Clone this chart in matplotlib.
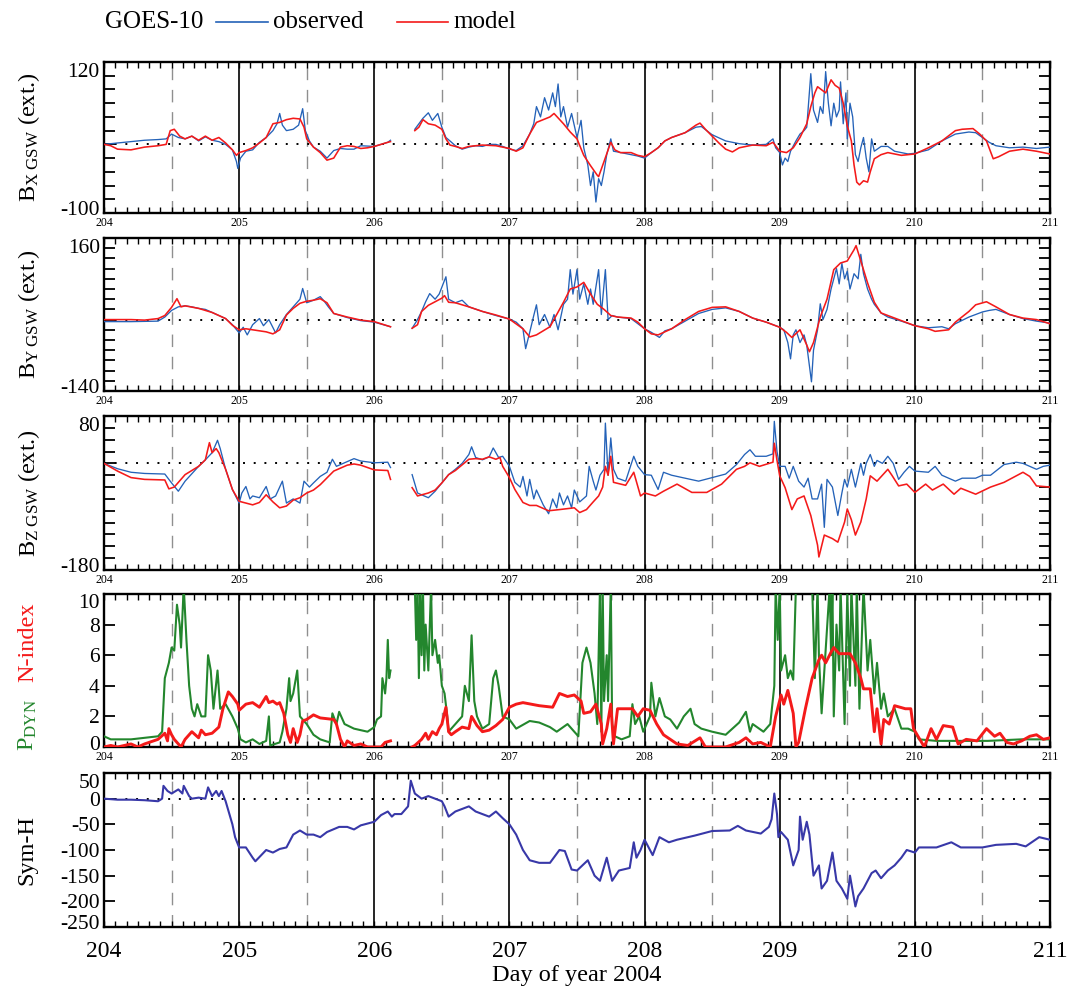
import numpy as np
import matplotlib
matplotlib.use('Agg')
import matplotlib.pyplot as plt
from matplotlib.lines import Line2D
from matplotlib.transforms import ScaledTranslation

plt.rcParams['font.family'] = 'Liberation Serif'
plt.rcParams['mathtext.fontset'] = 'custom'
plt.rcParams['mathtext.rm'] = 'Liberation Serif'
plt.rcParams['mathtext.it'] = 'Liberation Serif:italic'
plt.rcParams['mathtext.bf'] = 'Liberation Serif:bold'

NAN = float('nan')

# (day of year, value) samples; NaN marks the data gap on day 206
bx_obs = [(204.0, 0), (204.1, 2), (204.2, 4), (204.3, 6), (204.4, 7), (204.46, 8), (204.5, 15), (204.55, 10),
          (204.6, 8), (204.65, 12), (204.7, 5), (204.75, 11), (204.8, 6), (204.85, 4), (204.9, 0), (204.95, -8),
          (204.98, -25), (204.99, -35), (205.01, -20), (205.05, -10), (205.1, -8), (205.15, 3), (205.2, 10),
          (205.25, 20), (205.28, 30), (205.3, 45), (205.32, 28), (205.35, 20), (205.4, 22), (205.44, 28),
          (205.47, 52), (205.49, 20), (205.52, 5), (205.55, -4), (205.6, -10), (205.65, -20), (205.7, -9),
          (205.75, -6), (205.8, -7), (205.85, -7), (205.9, -2), (206.0, -3), (206.05, 0), (206.1, 3), (206.12, 6),
          (206.2, NAN), (206.3, 22), (206.33, 30), (206.36, 38), (206.4, 46), (206.43, 35), (206.45, 40),
          (206.47, 45), (206.5, 25), (206.53, 10), (206.56, 5), (206.6, -2), (206.65, -7), (206.7, -4),
          (206.75, -2), (206.8, -3), (206.85, 0), (206.9, 0), (206.95, -3), (207.0, -7), (207.05, -9), (207.1, -2),
          (207.15, 15), (207.18, 30), (207.2, 55), (207.23, 40), (207.26, 68), (207.29, 50), (207.32, 75),
          (207.34, 55), (207.36, 88), (207.38, 40), (207.4, 55), (207.43, 25), (207.46, 45), (207.5, 10),
          (207.53, 35), (207.55, -5), (207.58, -30), (207.6, -60), (207.62, -40), (207.64, -84), (207.66, -50),
          (207.68, -60), (207.7, -40), (207.72, -15), (207.75, 8), (207.77, -10), (207.8, -11), (207.85, -13),
          (207.9, -15), (207.95, -17), (208.0, -20), (208.05, -12), (208.1, -5), (208.15, 5), (208.2, 10),
          (208.3, 17), (208.38, 25), (208.42, 26), (208.5, 14), (208.6, 5), (208.7, 1), (208.8, -1), (208.9, 0),
          (208.95, 8), (208.97, -5), (209.0, -12), (209.02, -30), (209.04, -20), (209.06, -25), (209.08, -10),
          (209.12, 5), (209.15, 15), (209.18, 20), (209.2, 25), (209.23, 103), (209.25, 50), (209.28, 32),
          (209.3, 55), (209.32, 45), (209.34, 106), (209.36, 60), (209.38, 27), (209.4, 60), (209.42, 40),
          (209.44, 50), (209.45, 91), (209.47, 30), (209.49, 75), (209.5, 8), (209.52, 60), (209.54, 40),
          (209.56, -15), (209.58, -25), (209.6, -5), (209.62, 10), (209.64, -20), (209.66, -40), (209.68, 8),
          (209.7, -10), (209.75, -3), (209.8, -3), (209.85, -10), (209.9, -12), (209.95, -14), (210.0, -13),
          (210.1, -8), (210.2, 5), (210.3, 15), (210.4, 18), (210.45, 17), (210.5, 10), (210.55, 3), (210.6, -2),
          (210.7, -5), (210.8, -4), (210.9, -6), (211.0, -4)]

bx_mod = [(204.0, 0), (204.05, -2), (204.1, -7), (204.2, -8), (204.3, -4), (204.4, -2), (204.46, 0), (204.49, 20),
          (204.52, 22), (204.56, 12), (204.6, 8), (204.65, 12), (204.7, 6), (204.75, 12), (204.8, 6), (204.85, 10),
          (204.9, 2), (204.95, -8), (204.98, -16), (205.0, -12), (205.05, -9), (205.1, -5), (205.15, 2), (205.2, 10),
          (205.25, 30), (205.3, 32), (205.35, 36), (205.4, 38), (205.45, 37), (205.48, 25), (205.5, 8),
          (205.55, -4), (205.6, -12), (205.65, -23), (205.7, -20), (205.75, -4), (205.8, -2), (205.85, -3),
          (205.9, -6), (205.95, -5), (206.0, -3), (206.1, 3), (206.12, 4), (206.2, NAN), (206.3, 20), (206.33, 25),
          (206.36, 36), (206.4, 30), (206.45, 28), (206.5, 22), (206.53, 8), (206.56, -1), (206.6, -3),
          (206.65, -6), (206.7, -3), (206.8, -1), (206.9, -2), (207.0, -6), (207.05, -10), (207.1, -5),
          (207.15, 15), (207.2, 32), (207.25, 36), (207.3, 40), (207.33, 45), (207.4, 30), (207.45, 18),
          (207.5, 8), (207.55, -16), (207.6, -31), (207.65, -45), (207.66, -47), (207.7, -25), (207.75, 3),
          (207.78, -8), (207.82, -12), (207.9, -12), (207.95, -16), (208.0, -18), (208.05, -12), (208.1, -5),
          (208.15, 5), (208.2, 10), (208.3, 17), (208.38, 28), (208.41, 31), (208.45, 22), (208.5, 12),
          (208.55, 2), (208.6, -7), (208.65, -11), (208.7, -5), (208.8, -1), (208.9, -2), (208.95, 3),
          (209.0, -10), (209.05, -12), (209.1, -5), (209.15, 10), (209.2, 30), (209.23, 55), (209.26, 75),
          (209.28, 84), (209.32, 78), (209.34, 75), (209.38, 94), (209.41, 86), (209.44, 82), (209.47, 60),
          (209.5, 27), (209.53, 5), (209.55, -30), (209.57, -55), (209.59, -59), (209.62, -53), (209.65, -55),
          (209.67, -40), (209.7, -21), (209.75, -15), (209.8, -12), (209.85, -14), (209.9, -16), (210.0, -14),
          (210.1, -5), (210.2, 5), (210.3, 20), (210.35, 22), (210.43, 23), (210.48, 15), (210.53, 5),
          (210.58, -21), (210.62, -18), (210.7, -10), (210.8, -7), (210.9, -10), (211.0, -14)]

by_obs = [(204.0, -4), (204.2, -4), (204.4, -3), (204.45, 5), (204.5, 18), (204.55, 25), (204.6, 27), (204.65, 25),
          (204.7, 22), (204.75, 20), (204.8, 14), (204.9, 2), (204.95, -10), (205.0, -26), (205.03, -15),
          (205.06, -30), (205.1, -10), (205.15, 2), (205.18, -12), (205.22, 0), (205.27, -26), (205.3, -10),
          (205.35, 10), (205.4, 25), (205.45, 40), (205.47, 61), (205.5, 33), (205.55, 38), (205.6, 45),
          (205.63, 36), (205.66, 25), (205.7, 12), (205.8, 4), (205.9, -2), (206.0, -5), (206.12, -14),
          (206.2, NAN), (206.28, -17), (206.32, 0), (206.35, 16), (206.38, 35), (206.41, 51), (206.45, 40),
          (206.48, 50), (206.53, 84), (206.55, 40), (206.6, 33), (206.65, 38), (206.7, 25), (206.8, 16),
          (206.9, 8), (207.0, 1), (207.05, -5), (207.1, -18), (207.12, -57), (207.15, -25), (207.18, 8),
          (207.2, 29), (207.22, -10), (207.26, 10), (207.3, -15), (207.33, 10), (207.36, -20), (207.4, 30),
          (207.43, 40), (207.45, 98), (207.47, 50), (207.5, 98), (207.52, 40), (207.55, 70), (207.58, 30),
          (207.6, 60), (207.62, 30), (207.66, 98), (207.68, 10), (207.71, 98), (207.73, 0), (207.76, 8),
          (207.8, 5), (207.9, 2), (207.95, -8), (208.0, -18), (208.05, -25), (208.11, -35), (208.15, -22),
          (208.2, -18), (208.3, -3), (208.4, 12), (208.5, 20), (208.6, 23), (208.7, 16), (208.8, 3), (208.9, -5),
          (209.0, -15), (209.03, -20), (209.06, -45), (209.08, -77), (209.1, -30), (209.12, -20), (209.15, -45),
          (209.18, -30), (209.2, -50), (209.235, -122), (209.25, -60), (209.28, -20), (209.3, 31), (209.32, 0),
          (209.35, 20), (209.38, 60), (209.4, 80), (209.42, 100), (209.44, 70), (209.46, 110), (209.48, 80),
          (209.5, 95), (209.52, 60), (209.55, 90), (209.58, 80), (209.6, 128), (209.62, 90), (209.65, 60),
          (209.68, 40), (209.7, 30), (209.75, 13), (209.8, 5), (209.9, -3), (210.0, -12), (210.1, -16),
          (210.2, -14), (210.25, -18), (210.3, -8), (210.4, 5), (210.5, 15), (210.55, 18), (210.6, 20),
          (210.7, 10), (210.8, 2), (210.9, -3), (211.0, -7)]

by_mod = [(204.0, 0), (204.2, 0), (204.3, -1), (204.4, 2), (204.45, 8), (204.5, 24), (204.54, 41), (204.57, 25),
          (204.6, 27), (204.7, 22), (204.8, 14), (204.9, 2), (204.95, -11), (205.0, -20), (205.05, -18),
          (205.1, -20), (205.15, -22), (205.2, -24), (205.25, -28), (205.3, -20), (205.35, 9), (205.4, 22),
          (205.45, 32), (205.5, 36), (205.55, 38), (205.6, 41), (205.65, 33), (205.7, 12), (205.8, 5),
          (205.9, -1), (206.0, -4), (206.12, -14), (206.2, NAN), (206.28, -17), (206.32, -10), (206.35, 16),
          (206.4, 28), (206.45, 35), (206.5, 42), (206.52, 47), (206.55, 34), (206.6, 33), (206.7, 25),
          (206.8, 16), (206.9, 9), (207.0, 1), (207.1, -18), (207.15, -34), (207.2, -30), (207.3, -14),
          (207.35, 10), (207.4, 34), (207.45, 60), (207.5, 64), (207.55, 73), (207.6, 50), (207.65, 30),
          (207.7, 20), (207.75, 8), (207.8, 5), (207.9, 3), (207.95, -5), (208.0, -18), (208.05, -28),
          (208.1, -30), (208.2, -18), (208.3, 0), (208.4, 16), (208.5, 24), (208.6, 25), (208.7, 16), (208.8, 3),
          (208.9, -5), (209.0, -15), (209.05, -25), (209.09, -35), (209.15, -20), (209.2, -50), (209.22, -63),
          (209.25, -45), (209.3, 5), (209.35, 40), (209.4, 98), (209.45, 111), (209.5, 115), (209.55, 137),
          (209.565, 145), (209.6, 115), (209.65, 72), (209.7, 34), (209.75, 13), (209.8, 8), (209.9, -2),
          (210.0, -12), (210.1, -18), (210.15, -23), (210.25, -20), (210.3, -5), (210.4, 16), (210.45, 29),
          (210.53, 35), (210.6, 25), (210.7, 10), (210.8, 3), (210.9, 0), (211.0, -8)]

bz_obs = [(204.0, 0), (204.1, -9), (204.2, -15), (204.3, -17), (204.45, -18), (204.5, -33), (204.55, -47),
          (204.6, -30), (204.7, -5), (204.75, 6), (204.8, 18), (204.84, 39), (204.86, 25), (204.9, -10),
          (204.95, -44), (205.0, -67), (205.02, -50), (205.05, -39), (205.08, -60), (205.1, -55), (205.15, -58),
          (205.2, -39), (205.23, -60), (205.27, -55), (205.32, -30), (205.35, -67), (205.4, -60), (205.45, -67),
          (205.48, -30), (205.52, -40), (205.55, -33), (205.6, -22), (205.65, -15), (205.69, 7), (205.72, -5),
          (205.75, -2), (205.8, 3), (205.85, 8), (205.9, 4), (206.0, 1), (206.1, 2), (206.12, -7), (206.2, NAN),
          (206.28, -19), (206.32, -50), (206.4, -58), (206.45, -47), (206.5, -33), (206.55, -19), (206.6, -10),
          (206.65, 0), (206.7, 15), (206.72, 28), (206.75, 10), (206.8, 6), (206.85, 11), (206.88, 26),
          (206.92, 10), (206.95, 12), (207.0, -5), (207.04, -32), (207.08, -40), (207.1, -22), (207.13, -55),
          (207.15, -27), (207.18, -60), (207.2, -45), (207.25, -70), (207.29, -85), (207.32, -60), (207.35, -75),
          (207.37, -50), (207.4, -70), (207.43, -55), (207.46, -75), (207.48, -45), (207.52, -65), (207.57, -55),
          (207.59, -5), (207.62, -30), (207.64, -45), (207.67, -20), (207.7, -10), (207.71, 68), (207.73, -20),
          (207.75, 43), (207.77, -10), (207.8, -25), (207.86, -30), (207.92, 12), (207.95, -5), (208.0, -19),
          (208.05, -20), (208.1, -44), (208.14, -15), (208.2, -20), (208.3, -25), (208.4, -30), (208.5, -24),
          (208.6, -18), (208.68, -2), (208.74, 15), (208.78, 23), (208.82, 12), (208.9, 12), (208.95, 16),
          (208.96, 71), (208.98, 20), (209.0, -5), (209.04, -5), (209.07, -25), (209.1, -5), (209.14, -30),
          (209.18, -40), (209.21, -25), (209.24, -60), (209.28, -60), (209.31, -35), (209.33, -108),
          (209.35, -27), (209.39, -40), (209.43, -88), (209.46, -50), (209.48, -27), (209.5, -40), (209.53, -10),
          (209.56, -40), (209.6, 0), (209.62, -20), (209.64, 0), (209.67, 15), (209.7, -5), (209.72, 5),
          (209.76, 0), (209.8, 12), (209.84, 0), (209.88, -27), (209.92, -15), (209.96, -5), (210.0, -13),
          (210.1, -15), (210.15, -5), (210.2, -20), (210.3, -30), (210.35, -25), (210.45, -25), (210.5, -20),
          (210.56, -20), (210.66, -2), (210.75, 2), (210.8, 0), (210.85, -5), (210.9, -10), (210.95, -5),
          (211.0, -3)]

bz_mod = [(204.0, 0), (204.1, -13), (204.2, -24), (204.3, -27), (204.45, -28), (204.48, -43), (204.52, -40),
          (204.6, -19), (204.7, -5), (204.75, 6), (204.78, 35), (204.8, 18), (204.83, 25), (204.85, 18),
          (204.9, -10), (204.95, -44), (205.0, -64), (205.1, -70), (205.15, -66), (205.2, -53), (205.25, -65),
          (205.3, -75), (205.35, -72), (205.4, -62), (205.45, -58), (205.5, -50), (205.55, -45), (205.6, -36),
          (205.7, -13), (205.8, -3), (205.85, -1), (205.9, -3), (206.0, -11), (206.1, -12), (206.12, -27),
          (206.2, NAN), (206.28, -41), (206.32, -55), (206.4, -50), (206.45, -45), (206.5, -33), (206.55, -19),
          (206.6, -12), (206.7, 7), (206.75, 8), (206.8, 7), (206.85, 11), (206.9, 7), (206.93, 10),
          (206.95, -5), (207.0, -24), (207.04, -44), (207.1, -66), (207.15, -71), (207.2, -71), (207.29, -80),
          (207.37, -78), (207.48, -75), (207.52, -83), (207.57, -78), (207.62, -65), (207.66, -55), (207.69, -40),
          (207.71, -5), (207.73, -20), (207.75, 12), (207.77, -32), (207.86, -37), (207.92, -15), (207.97, -55),
          (208.0, -50), (208.08, -55), (208.14, -47), (208.24, -35), (208.35, -49), (208.46, -49), (208.57, -35),
          (208.68, -10), (208.74, -5), (208.78, 1), (208.85, -5), (208.95, 2), (208.96, 34), (208.98, 5),
          (209.0, -21), (209.04, -41), (209.09, -78), (209.13, -60), (209.18, -55), (209.23, -88), (209.28, -138),
          (209.29, -158), (209.33, -121), (209.39, -127), (209.43, -133), (209.48, -99), (209.5, -77),
          (209.53, -95), (209.56, -121), (209.6, -99), (209.64, -60), (209.67, -21), (209.72, -30), (209.8, -10),
          (209.83, -20), (209.88, -38), (209.94, -35), (210.0, -49), (210.08, -35), (210.13, -45), (210.21, -35),
          (210.29, -52), (210.34, -42), (210.45, -52), (210.56, -40), (210.66, -32), (210.8, -15), (210.85, -22),
          (210.9, -38), (211.0, -40)]

pdyn = [(204.0, 0.7), (204.05, 0.5), (204.1, 0.5), (204.2, 0.5), (204.3, 0.6), (204.4, 0.7), (204.43, 1.0),
        (204.45, 4.5), (204.48, 5.5), (204.5, 6.5), (204.52, 6.3), (204.54, 9.3), (204.56, 8), (204.57, 6.5),
        (204.59, 10.5), (204.61, 7), (204.63, 4), (204.65, 2.5), (204.67, 2), (204.69, 2.8), (204.72, 2),
        (204.75, 2), (204.77, 6), (204.79, 5), (204.81, 2.5), (204.84, 5), (204.86, 2.5), (204.9, 2.8),
        (204.95, 2.0), (204.99, 1.2), (205.01, 0.5), (205.05, 0.3), (205.1, 0.5), (205.15, 0.2), (205.2, 0.4),
        (205.22, 2), (205.23, 0.1), (205.3, 0.3), (205.32, 1.0), (205.35, 2.5), (205.37, 4.5), (205.38, 3),
        (205.4, 3.5), (205.43, 5), (205.45, 2), (205.5, 1.5), (205.55, 0.8), (205.6, 0.5), (205.67, 0.3),
        (205.69, 2.2), (205.72, 1.5), (205.74, 2.3), (205.78, 1.5), (205.85, 1.2), (205.95, 1.0), (206.0, 1.3),
        (206.02, 1.8), (206.05, 2.0), (206.06, 4.5), (206.08, 3.5), (206.09, 4.5), (206.1, 7), (206.11, 4.5),
        (206.12, 5), (206.2, NAN), (206.28, 10.5), (206.3, 10.5), (206.31, 7), (206.32, 10.5), (206.33, 4.5),
        (206.34, 10.5), (206.35, 6), (206.36, 10.5), (206.37, 5), (206.38, 8), (206.4, 5), (206.42, 10.5),
        (206.43, 6), (206.45, 7), (206.47, 5.5), (206.48, 6), (206.5, 4), (206.52, 3.5), (206.54, 2),
        (206.55, 1), (206.57, 1.2), (206.6, 1.5), (206.65, 2), (206.67, 4), (206.7, 3), (206.72, 7.3),
        (206.74, 3), (206.76, 2), (206.8, 1.2), (206.85, 1.5), (206.88, 4.5), (206.9, 5), (206.92, 4),
        (206.95, 2), (207.0, 1.8), (207.05, 1.2), (207.15, 1.7), (207.22, 1.6), (207.3, 1.3), (207.35, 1.0),
        (207.43, 1.5), (207.48, 1.0), (207.51, 0.7), (207.54, 5.5), (207.57, 6.5), (207.6, 5.5), (207.63, 3.5),
        (207.65, 1.5), (207.67, 10.5), (207.68, 1.0), (207.69, 10.5), (207.7, 3), (207.72, 6), (207.73, 3),
        (207.75, 10.5), (207.76, 1.5), (207.78, 0.7), (207.83, 0.5), (207.89, 0.7), (207.91, 2.8), (207.93, 1.5),
        (207.96, 2), (207.99, 1.0), (208.04, 2), (208.05, 4.2), (208.08, 2), (208.11, 3.2), (208.15, 2),
        (208.19, 1.8), (208.24, 1.2), (208.29, 2), (208.34, 2.5), (208.37, 1.5), (208.42, 1.2), (208.5, 1.0),
        (208.6, 0.8), (208.7, 1.6), (208.75, 2.3), (208.78, 1.0), (208.8, 1.5), (208.88, 1.0), (208.93, 1.5),
        (208.96, 4), (208.97, 10.5), (208.985, 7), (209.0, 10.5), (209.01, 5), (209.04, 6), (209.06, 4.5),
        (209.08, 5), (209.1, 4.4), (209.12, 10.5), (209.24, 10.5), (209.26, 4.5), (209.28, 10.5), (209.29, 6),
        (209.31, 2.2), (209.33, 5), (209.37, 10.5), (209.38, 6), (209.39, 10.5), (209.4, 2), (209.42, 8),
        (209.44, 5), (209.45, 10.5), (209.48, 1.5), (209.5, 10), (209.52, 4), (209.53, 10.5), (209.56, 4),
        (209.57, 10.5), (209.59, 2.5), (209.62, 10.5), (209.65, 5), (209.67, 7), (209.7, 3.5), (209.72, 5.5),
        (209.75, 2.5), (209.77, 3.5), (209.8, 2.0), (209.85, 2.5), (209.9, 1.2), (209.95, 1.2), (210.0, 1.0),
        (210.03, 0.5), (210.16, 0.4), (210.28, 0.4), (210.54, 0.4), (210.79, 0.5), (211.0, 0.5)]

n_index = [(204.0, 0), (204.05, 0.1), (204.1, 0), (204.2, 0.2), (204.25, 0), (204.3, 0.2), (204.4, 0.5),
           (204.45, 0.9), (204.47, 0.4), (204.48, 1.2), (204.5, 0.8), (204.52, 0.5), (204.57, 0), (204.6, 0.5),
           (204.65, 1.0), (204.7, 0.6), (204.72, 1.1), (204.75, 0.8), (204.8, 0.9), (204.85, 1.3), (204.88, 2.5),
           (204.92, 3.6), (204.95, 3.3), (204.99, 2.8), (205.0, 2.4), (205.05, 2.8), (205.1, 2.9), (205.15, 2.6),
           (205.2, 3.3), (205.22, 2.9), (205.25, 3.0), (205.28, 2.8), (205.3, 2.9), (205.33, 2.2), (205.36, 0.8),
           (205.38, 0.3), (205.4, 1.2), (205.43, 0.3), (205.45, 0.8), (205.47, 1.7), (205.5, 1.8), (205.55, 2.1),
           (205.6, 1.9), (205.7, 1.8), (205.72, 1.5), (205.75, 0.5), (205.78, 0), (205.8, 0.4), (205.85, 0.1),
           (205.9, 0.2), (205.95, 0), (206.05, 0), (206.08, 0.3), (206.12, 0.4), (206.2, NAN), (206.28, 0),
           (206.3, 0.1), (206.35, 0.5), (206.38, 0.9), (206.4, 0.5), (206.43, 1.0), (206.46, 0.8), (206.48, 1.2),
           (206.5, 1.5), (206.53, 2.6), (206.55, 1.0), (206.57, 0.8), (206.6, 1.0), (206.65, 1.3), (206.7, 1.2),
           (206.72, 2.0), (206.76, 1.4), (206.8, 1.0), (206.85, 1.1), (206.9, 1.4), (206.95, 1.8), (207.0, 2.6),
           (207.05, 2.8), (207.1, 2.9), (207.22, 2.7), (207.32, 2.6), (207.37, 3.5), (207.43, 3.3), (207.48, 3.4),
           (207.53, 3.0), (207.55, 2.2), (207.6, 2.3), (207.64, 2.8), (207.68, 1.5), (207.69, 0.2), (207.72, 1.2),
           (207.75, 2.8), (207.77, 0.2), (207.8, 2.5), (207.86, 2.5), (207.91, 2.5), (207.95, 2.0), (207.99, 2.5),
           (208.04, 2.4), (208.09, 1.5), (208.14, 0.8), (208.19, 0.5), (208.24, 0.2), (208.32, 0.1), (208.41, 0.6),
           (208.45, 0), (208.6, 0), (208.7, 0.3), (208.75, 0.6), (208.8, 0.2), (208.86, 0.3), (208.93, 0),
           (208.97, 2), (209.01, 3.4), (209.03, 2.8), (209.06, 3.7), (209.1, 2.2), (209.12, 0), (209.14, 0.3),
           (209.19, 2.5), (209.24, 4.5), (209.29, 5.7), (209.31, 6.0), (209.34, 5.5), (209.38, 6.2), (209.4, 6.5),
           (209.44, 6.1), (209.52, 6.1), (209.56, 5.5), (209.6, 4.5), (209.62, 3.8), (209.67, 3.8), (209.7, 1.0),
           (209.72, 2.5), (209.75, 0.2), (209.77, 1.8), (209.81, 1.5), (209.85, 2.7), (209.93, 2.5), (209.97, 2.5),
           (209.99, 1.2), (210.03, 0.6), (210.07, 0), (210.12, 1.2), (210.16, 0.5), (210.21, 1.4), (210.28, 1.3),
           (210.32, 0.2), (210.38, 0.5), (210.46, 0.4), (210.53, 1.2), (210.59, 0.7), (210.63, 0.9), (210.68, 0.3),
           (210.73, 0.2), (210.79, 0.4), (210.85, 0.7), (210.9, 0.8), (210.95, 0.5), (211.0, 0.6)]

sym_h = [(204.0, 0), (204.1, -2), (204.2, -2), (204.3, -3), (204.4, -5), (204.43, 0), (204.44, 25), (204.47, 15),
         (204.5, 10), (204.55, 18), (204.58, 10), (204.59, 25), (204.63, 5), (204.65, 0), (204.7, 2), (204.75, 0),
         (204.77, 22), (204.8, 5), (204.83, 15), (204.85, 5), (204.87, 15), (204.9, -5), (204.95, -50),
         (204.97, -75), (205.0, -95), (205.05, -95), (205.1, -115), (205.12, -122), (205.2, -100), (205.25, -105),
         (205.3, -98), (205.35, -95), (205.4, -70), (205.45, -62), (205.5, -70), (205.55, -70), (205.6, -75),
         (205.65, -65), (205.74, -55), (205.8, -55), (205.85, -60), (205.9, -52), (206.0, -45), (206.05, -32),
         (206.1, -25), (206.13, -35), (206.15, -30), (206.2, -30), (206.25, -15), (206.27, 35), (206.3, 10),
         (206.35, 0), (206.4, 5), (206.45, 0), (206.5, -5), (206.52, -15), (206.55, -35), (206.6, -25),
         (206.65, -20), (206.7, -15), (206.75, -25), (206.8, -30), (206.85, -35), (206.9, -25), (206.95, -38),
         (207.0, -50), (207.05, -70), (207.1, -100), (207.15, -120), (207.22, -125), (207.3, -125), (207.37, -100),
         (207.41, -102), (207.46, -138), (207.5, -140), (207.58, -120), (207.63, -150), (207.67, -160),
         (207.72, -115), (207.76, -160), (207.81, -140), (207.89, -135), (207.92, -85), (207.94, -115),
         (207.97, -100), (208.0, -80), (208.06, -110), (208.11, -75), (208.18, -85), (208.24, -80), (208.37, -72),
         (208.5, -63), (208.63, -62), (208.69, -53), (208.75, -62), (208.86, -68), (208.92, -55), (208.94, -40),
         (208.96, 10), (208.98, -30), (208.99, -75), (209.01, -65), (209.06, -80), (209.1, -130), (209.14, -100),
         (209.15, -35), (209.17, -80), (209.2, -45), (209.22, -70), (209.25, -150), (209.29, -130), (209.31, -175),
         (209.35, -160), (209.39, -105), (209.42, -160), (209.46, -175), (209.5, -195), (209.52, -150),
         (209.56, -210), (209.58, -190), (209.62, -175), (209.68, -145), (209.71, -140), (209.75, -155),
         (209.8, -140), (209.85, -130), (209.9, -115), (209.94, -100), (210.0, -105), (210.03, -95), (210.16, -95),
         (210.27, -85), (210.34, -95), (210.5, -95), (210.6, -90), (210.75, -88), (210.82, -93), (210.92, -75),
         (211.0, -80)]

day_labels = ['204', '205', '206', '207', '208', '209', '210', '211']
bx_ticks = [-100, -80, -60, -40, -20, 0, 20, 40, 60, 80, 100, 120]
by_ticks = [-140, -120, -100, -80, -60, -40, -20, 0, 20, 40, 60, 80, 100, 120, 140, 160]
bz_ticks = [-180, -160, -140, -120, -100, -80, -60, -40, -20, 0, 20, 40, 60, 80]
p_ticks = [0, 2, 4, 6, 8, 10]
symh_ticks = [-250, -200, -150, -100, -50, 0, 50]

C_OBS = '#2462b8'
C_MOD = '#f41a1a'
C_PDYN = '#23862d'
C_SYMH = '#3838a8'
SYMH_ZERO_END = 210.83


def split(pairs):
    a = np.array(pairs, dtype=float)
    return a[:, 0], a[:, 1]


def frame(ax, label_size=8.5, label_pad=3):
    ax.set_xlim(204, 211)
    for d in np.arange(204.5, 211, 1.0):
        ax.axvline(d, color='#8f8f8f', lw=1.0, dashes=(9, 7), zorder=1)
    for d in range(205, 211):
        ax.axvline(d, color='black', lw=1.2, zorder=1)
    ax.set_xticks(range(204, 212))
    ax.set_xticklabels(day_labels)
    ax.set_xticks(np.arange(204, 211.001, 1 / 12), minor=True)
    ax.tick_params(axis='x', which='both', direction='in', top=True, bottom=True,
                   length=4, width=1.0, labelsize=label_size, pad=label_pad)
    ax.tick_params(axis='y', which='both', direction='in', left=True, right=True,
                   length=8, width=1.3, labelsize=15.5, pad=3)
    for s in ax.spines.values():
        s.set_linewidth(1.7)


def end_labels(ticks):
    return [str(t) if t in (ticks[0], ticks[-1]) else '' for t in ticks]


def pull_in_end_labels(ax, down=8, up=5):
    # shift the top and bottom y labels inward so they stay off the panel edges
    ticks = ax.yaxis.get_major_ticks()
    lo, hi = ticks[0].label1, ticks[-1].label1
    lo.set_transform(lo.get_transform() + ScaledTranslation(0, up / 100, fig.dpi_scale_trans))
    hi.set_transform(hi.get_transform() + ScaledTranslation(0, -down / 100, fig.dpi_scale_trans))


W, H = 1081, 989
left_px, right_px = 104, 1050
panel_px = [(62, 213), (238, 391), (416, 570), (594, 747), (773, 927)]

fig = plt.figure(figsize=(W / 100, H / 100), dpi=100)
axes = []
for top, bot in panel_px:
    axes.append(fig.add_axes([left_px / W, 1 - bot / H, (right_px - left_px) / W, (bot - top) / H]))

# magnetic field components, observed vs model
comp = [(axes[0], bx_obs, bx_mod, bx_ticks, r'$\mathrm{B_{X\ GSW}}$ (ext.)'),
        (axes[1], by_obs, by_mod, by_ticks, r'$\mathrm{B_{Y\ GSW}}$ (ext.)'),
        (axes[2], bz_obs, bz_mod, bz_ticks, r'$\mathrm{B_{Z\ GSW}}$ (ext.)')]
for ax, obs, mod, ticks, lab in comp:
    frame(ax)
    ax.axhline(0, color='black', lw=1.4, ls=(0, (1, 4.5)), zorder=2)
    t, v = split(obs)
    ax.plot(t, v, color=C_OBS, lw=0.95, zorder=3)
    t, v = split(mod)
    ax.plot(t, v, color=C_MOD, lw=1.15, zorder=4)
    ax.set_ylim(ticks[0], ticks[-1])
    ax.set_yticks(ticks)
    ax.set_yticklabels(end_labels(ticks))
    pull_in_end_labels(ax)
    ax.set_ylabel(lab, fontsize=17.5)
    ax.yaxis.set_label_coords(-0.066, 0.5)

# solar wind dynamic pressure and N-index
ax = axes[3]
frame(ax)
t, v = split(pdyn)
ax.plot(t, v, color=C_PDYN, lw=1.5, zorder=3)
t, v = split(n_index)
ax.plot(t, v, color=C_MOD, lw=2.1, zorder=4)
ax.set_ylim(0, 10)
ax.set_yticks(p_ticks)
ax.set_yticklabels([str(p) for p in p_ticks])
pull_in_end_labels(ax, down=7, up=4)
fig.text(28 / W, 1 - 642 / H, 'N-index', color=C_MOD, fontsize=17.5, rotation=90, ha='center', va='center')
fig.text(28 / W, 1 - 725 / H, r'$\mathrm{P_{DYN}}$', color=C_PDYN, fontsize=17.5, rotation=90,
         ha='center', va='center')

# Sym-H index
ax = axes[4]
frame(ax, label_size=17, label_pad=10)
ax.hlines(0, 204, SYMH_ZERO_END, color='black', lw=1.4, ls=(0, (1, 4.5)), zorder=2)
t, v = split(sym_h)
ax.plot(t, v, color=C_SYMH, lw=1.5, zorder=3)
ax.set_ylim(symh_ticks[0], symh_ticks[-1])
ax.set_yticks(symh_ticks)
ax.set_yticklabels([str(s) for s in symh_ticks])
pull_in_end_labels(ax, down=8, up=5)
ax.set_ylabel('Sym-H', fontsize=17.5)
ax.yaxis.set_label_coords(-0.07, 0.5)
ax.set_xlabel('Day of year 2004', fontsize=17.5, labelpad=2)

# legend row
ly = 1 - 22 / H
fig.text(105 / W, ly, 'GOES-10', fontsize=18, va='center')
fig.add_artist(Line2D([216 / W, 268 / W], [ly, ly], color=C_OBS, lw=1.2, transform=fig.transFigure))
fig.text(273 / W, ly, 'observed', fontsize=18, va='center')
fig.add_artist(Line2D([397 / W, 448 / W], [ly, ly], color=C_MOD, lw=1.2, transform=fig.transFigure))
fig.text(453 / W, ly, 'model', fontsize=18, va='center')

fig.savefig('out.png', dpi=100)
